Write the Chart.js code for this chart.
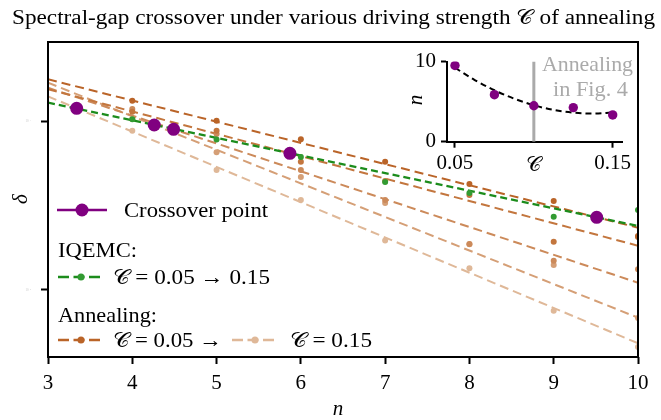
<!DOCTYPE html>
<html><head><meta charset="utf-8">
<script src="https://cdn.jsdelivr.net/npm/chart.js@4/dist/chart.umd.min.js"></script>
<style>
html,body{margin:0;padding:0;background:#fff;}
#wrap{position:relative;width:661px;height:420px;}
#main{position:absolute;left:0;top:0;}
#inset{position:absolute;left:395px;top:44px;}
</style></head>
<body><div id="wrap"><canvas id="main" width="661" height="420"></canvas><canvas id="inset" width="266" height="135"></canvas></div>
<script>
// ---------- data ----------
const nValues = [4, 5, 6, 7, 8, 9, 10];
const drivingC = [0.05, 0.075, 0.1, 0.125, 0.15];
// annealing gaps (one array per C)
const anneal005  = [0.1333, 0.1014, 0.0786, 0.05785, 0.04264, 0.03379, 0.02093];
const anneal0075 = [0.1147, 0.08841, 0.05785, 0.04442, 0.03667, 0.01936, 0.02065];
const anneal010  = [0.1190, 0.08450, 0.05164, 0.03425, 0.01877, 0.01493, 0.01327];
const anneal0125 = [0.1038, 0.0658, 0.04692, 0.03288, 0.01869, 0.01408, 0.006818];
const anneal015  = [0.08841, 0.05164, 0.03425, 0.01968, 0.01346, 0.007533, 0.004585];
// fitted lines, delta at n=3 and n=10
const fitEnds = [3, 10];
const annealFit005  = [0.1786, 0.02346];
const annealFit0075 = [0.1562, 0.01833];
const annealFit010  = [0.1590, 0.01105];
const annealFit0125 = [0.1705, 0.006846];
const annealFit015  = [0.1415, 0.004824];
// IQEMC
const iqemc = [0.1033, 0.07837, 0.06169, 0.04382, 0.03769, 0.02726, 0.02987];
const iqemcFit = [0.1297, 0.02401];
// crossover points (n, delta), one per C
const crossoverN = [9.51, 5.87, 4.49, 4.26, 3.34];
const crossoverDelta = [0.02703, 0.06489, 0.09012, 0.09558, 0.1201];
// inset fit curve
const insetFitC = [0.05, 0.0625, 0.075, 0.0875, 0.1, 0.1125, 0.125, 0.1375, 0.15];
const insetFitN = [9.23, 7.70, 6.42, 5.37, 4.55, 3.97, 3.63, 3.52, 3.65];
const xTicks = [3, 4, 5, 6, 7, 8, 9, 10];
const yTicks = [0.01, 0.1];
const yTickLabels = ['10\u207B\u00B2', '10\u207B\u00B9'];

// ---------- styles ----------
const annealColors = ['rgb(186,100,40)', 'rgb(195,118,62)', 'rgb(204,138,90)', 'rgb(213,159,118)', 'rgb(223,184,152)'];
const green = 'rgb(28,140,28)';
const greenPt = 'rgb(50,155,50)';
const purple = 'rgb(128,0,128)';
const SERIF = "'Liberation Serif', 'DejaVu Serif', serif";
const SC = '\uD835\uDC9E';

const annealSets = [anneal005, anneal0075, anneal010, anneal0125, anneal015];
const annealFits = [annealFit005, annealFit0075, annealFit010, annealFit0125, annealFit015];

const datasets = [];
datasets.push({label:'Crossover', data: crossoverN.map((n,i)=>({x:n,y:crossoverDelta[i]})), showLine:false,
  pointRadius:6.5, pointBackgroundColor:purple, pointBorderColor:purple, pointBorderWidth:0, order:0});
datasets.push({label:'IQEMC pts', data: nValues.map((n,i)=>({x:n,y:iqemc[i]})), showLine:false,
  pointRadius:3, pointBackgroundColor:greenPt, pointBorderColor:greenPt, pointBorderWidth:0, order:1});
datasets.push({label:'IQEMC fit', data: fitEnds.map((n,i)=>({x:n,y:iqemcFit[i]})), showLine:true,
  borderColor:green, borderWidth:2.2, borderDash:[7,4], pointRadius:0, order:2});
annealSets.forEach((arr,k)=>{
  datasets.push({label:'A pts '+k, data: nValues.map((n,i)=>({x:n,y:arr[i]})), showLine:false,
    pointRadius:3, pointBackgroundColor:annealColors[k], pointBorderColor:annealColors[k], pointBorderWidth:0, order:3+k});
});
annealFits.forEach((arr,k)=>{
  datasets.push({label:'A fit '+k, data: fitEnds.map((n,i)=>({x:n,y:arr[i]})), showLine:true,
    borderColor:annealColors[k], borderWidth:2, borderDash:[9,5], pointRadius:0, order:10+k});
});

function dash(ctx,x1,x2,y,color,d,w){ctx.save();ctx.strokeStyle=color;ctx.lineWidth=w;ctx.setLineDash(d);ctx.beginPath();ctx.moveTo(x1,y);ctx.lineTo(x2,y);ctx.stroke();ctx.restore();}
function dot(ctx,x,y,r,color){ctx.save();ctx.fillStyle=color;ctx.beginPath();ctx.arc(x,y,r,0,Math.PI*2);ctx.fill();ctx.restore();}
// draw text; if width given, stretch horizontally to that width
function txt(ctx,s,x,y,size,opt){opt=opt||{};ctx.save();ctx.fillStyle=opt.color||'#000';ctx.font=(opt.italic?'italic ':'')+size+'px '+SERIF;
  ctx.textAlign=opt.align||'left';ctx.textBaseline='middle';
  if(opt.width){const w=ctx.measureText(s).width;ctx.translate(x,y);ctx.scale(opt.width/w,1);ctx.fillText(s,0,0);}
  else ctx.fillText(s,x,y);
  ctx.restore();}

const decor = {
  id:'decor',
  afterDraw(chart){
    const ctx=chart.ctx, a=chart.chartArea;
    ctx.save();ctx.strokeStyle='#000';ctx.lineWidth=2;ctx.strokeRect(a.left,a.top,a.right-a.left,a.bottom-a.top);ctx.restore();
    txt(ctx,'Spectral-gap crossover under various driving strength '+SC+' of annealing',333.5,19,20,{align:'center',width:643});
    txt(ctx,'n',338,409,21,{italic:true,align:'center'});
    ctx.save();ctx.translate(21,199);ctx.rotate(-Math.PI/2);txt(ctx,'\u03B4',0,0,21,{italic:true,align:'center'});ctx.restore();
    // legend
    ctx.save();ctx.strokeStyle=purple;ctx.lineWidth=2.5;ctx.beginPath();ctx.moveTo(57,210);ctx.lineTo(107,210);ctx.stroke();ctx.restore();
    dot(ctx,82,210,6.5,purple);
    txt(ctx,'Crossover point',124,211,21,{width:144});
    txt(ctx,'IQEMC:',58,251,21,{width:79});
    dash(ctx,58,103,277,green,[11,4.5],2.5); dot(ctx,81,277,3.5,greenPt);
    txt(ctx,SC+' = 0.05 \u2192 0.15',113,278,21,{width:157});
    txt(ctx,'Annealing:',58,316,21,{width:99});
    dash(ctx,58,103,340,annealColors[0],[11,4.5],2.5); dot(ctx,81,340,3.5,annealColors[0]);
    txt(ctx,SC+' = 0.05 \u2192',113,341,21,{width:109});
    dash(ctx,232,277,340,annealColors[4],[11,4.5],2.5); dot(ctx,255,340,3.5,annealColors[4]);
    txt(ctx,SC+' = 0.15',290,341,21,{width:82});
  }
};

new Chart(document.getElementById('main'),{
  type:'scatter',
  data:{datasets},
  options:{
    responsive:false, animation:false, devicePixelRatio:1,
    layout:{padding:{left:0,right:23,top:42,bottom:0}},
    plugins:{legend:{display:false},tooltip:{enabled:false}},
    scales:{
      x:{type:'linear',min:3,max:10,
        afterBuildTicks(s){s.ticks=xTicks.map(v=>({value:v}));},
        afterFit(s){s.height=63;},
        grid:{drawOnChartArea:false,drawTicks:true,tickLength:7,tickWidth:2,tickColor:'#000'},
        border:{display:false},
        ticks:{color:'#000',font:{family:SERIF,size:21},padding:7,maxRotation:0}},
      y:{type:'logarithmic',min:0.003997,max:0.2976,
        afterBuildTicks(s){s.ticks=yTicks.map(v=>({value:v,major:true}));},
        afterFit(s){s.width=48;},
        grid:{drawOnChartArea:false,drawTicks:true,tickLength:7,tickWidth:2,tickColor:'#000'},
        border:{display:false},
        ticks:{color:'#c8c8c8',font:{family:SERIF,size:3},padding:10,
          callback(v){const i=yTicks.indexOf(v);return i>=0?yTickLabels[i]:'';}}}
    }
  },
  plugins:[decor]
});

// ---------- inset ----------
const insetDecor = {
  id:'insetDecor',
  afterDraw(chart){
    const ctx=chart.ctx, xs=chart.scales.x;
    txt(ctx,SC,xs.getPixelForValue(0.1),121,21,{align:'center'});
    ctx.save();ctx.translate(21,56);ctx.rotate(-Math.PI/2);txt(ctx,'n',0,0,21,{italic:true,align:'center'});ctx.restore();
    txt(ctx,'Annealing',147,21,21,{color:'#aaaaaa',width:91});
    txt(ctx,'in Fig. 4',158,46,21,{color:'#aaaaaa',width:75});
  }
};
new Chart(document.getElementById('inset'),{
  type:'scatter',
  data:{datasets:[
    {data: drivingC.map((c,i)=>({x:c,y:crossoverN[i]})), showLine:false, pointRadius:4.7,
      pointBackgroundColor:purple, pointBorderColor:purple, pointBorderWidth:0, order:0},
    {data: insetFitC.map((c,i)=>({x:c,y:insetFitN[i]})), showLine:true, borderColor:'#000', borderWidth:2,
      borderDash:[6,4], pointRadius:0, tension:0.4, cubicInterpolationMode:'monotone', order:1},
    {data:[{x:0.1,y:0},{x:0.1,y:10}], showLine:true, borderColor:'#aaaaaa', borderWidth:3, pointRadius:0, order:2}
  ]},
  options:{
    responsive:false, animation:false, devicePixelRatio:1,
    layout:{padding:{left:0,right:39,top:12.7,bottom:0}},
    plugins:{legend:{display:false},tooltip:{enabled:false}},
    scales:{
      x:{type:'linear',min:0.04493,max:0.1559,
        afterBuildTicks(s){s.ticks=[{value:0.05},{value:0.15}];},
        afterFit(s){s.height=37.3;},
        grid:{drawOnChartArea:false,drawTicks:true,tickLength:6,tickWidth:2,tickColor:'#000'},
        border:{display:true,width:2,color:'#000'},
        ticks:{color:'#000',font:{family:SERIF,size:21},padding:3,maxRotation:0,
          callback(v){return v===0.05?'0.05':(v===0.15?'0.15':'');}}},
      y:{type:'linear',min:0,max:10,
        afterBuildTicks(s){s.ticks=[{value:0},{value:10}];},
        afterFit(s){s.width=52;},
        grid:{drawOnChartArea:false,drawTicks:true,tickLength:6,tickWidth:2,tickColor:'#000'},
        border:{display:true,width:2,color:'#000'},
        ticks:{color:'#000',font:{family:SERIF,size:21},padding:5}}
    }
  },
  plugins:[insetDecor]
});
</script></body></html>
